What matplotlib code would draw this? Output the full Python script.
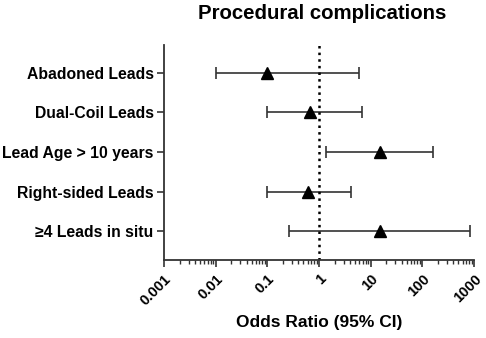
import numpy as np
import matplotlib
matplotlib.use("Agg")
import matplotlib.pyplot as plt
from matplotlib.ticker import LogLocator, NullFormatter

plt.rcParams['font.family'] = ['Liberation Sans', 'DejaVu Sans']

labels = ["Abadoned Leads", "Dual-Coil Leads", "Lead Age > 10 years",
          "Right-sided Leads", "\u22654 Leads in situ"]
odds = [0.1, 0.68, 15, 0.61, 15]
ci_low = [0.01, 0.1, 1.36, 0.1, 0.265]
ci_high = [6.0, 6.8, 160, 4.1, 850]
xticks = [0.001, 0.01, 0.1, 1, 10, 100, 1000]
xticklabels = ["0.001", "0.01", "0.1", "1", "10", "100", "1000"]

fig = plt.figure(figsize=(4.86, 3.38), dpi=100)
ax = fig.add_axes([0.3374, 0.2308, 0.638, 0.636])

ypos = np.arange(1, len(labels) + 1)
odds = np.array(odds)
err = [odds - np.array(ci_low), np.array(ci_high) - odds]
ax.errorbar(odds, ypos, xerr=err, fmt='none', ecolor='#333333',
            elinewidth=1.2, capsize=4, capthick=1.2)
ax.plot(odds, ypos, '^', color='black', markersize=9)
ax.axvline(1, color='black', linestyle=':', linewidth=1.8)

ax.set_xscale('log')
ax.set_xlim(0.001, 1000)
ax.set_ylim(5.73, 0.30)
ax.set_yticks(ypos)
ax.set_yticklabels(labels, fontsize=11.3, fontweight='bold')
ax.set_xticks(xticks)
ax.set_xticklabels(xticklabels, rotation=45, ha='right', rotation_mode='anchor',
                   fontsize=10.5, fontweight='bold')
ax.xaxis.set_minor_locator(LogLocator(base=10, subs=np.arange(2, 10)))
ax.xaxis.set_minor_formatter(NullFormatter())
ax.tick_params(axis='both', which='major', length=5, width=1.2, color='#333333')
ax.tick_params(axis='y', pad=2.5)
ax.tick_params(axis='x', which='minor', length=3, width=1, color='#333333')
for s in ['top', 'right']:
    ax.spines[s].set_visible(False)
for s in ['left', 'bottom']:
    ax.spines[s].set_linewidth(1.3)
    ax.spines[s].set_color('#333333')

ax.set_xlabel("Odds Ratio (95% CI)", fontsize=12.5, fontweight='bold', labelpad=5)
fig.text(0.662, 0.96, "Procedural complications", fontsize=14.7,
         fontweight='bold', ha='center', va='center')

fig.savefig("out.png", dpi=100)
